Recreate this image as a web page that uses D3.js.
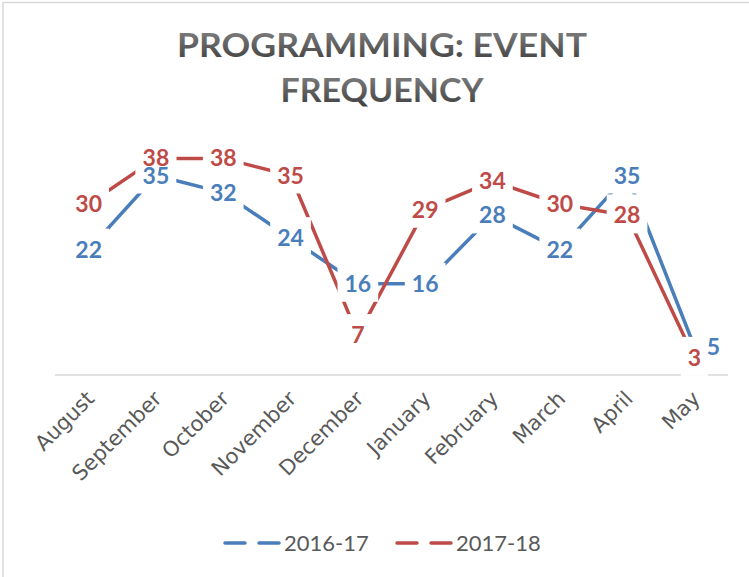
<!DOCTYPE html>
<html>
<head>
<meta charset="utf-8">
<script src="https://cdn.jsdelivr.net/npm/d3@7"></script>
<style>
  body { margin: 0; background: #fff; }
  svg { display: block; }
</style>
</head>
<body>
<div id="chart"></div>
<script>
const months = ['August', 'September', 'October', 'November', 'December',
  'January', 'February', 'March', 'April', 'May']
const values1617 = [22, 35, 32, 24, 16, 16, 28, 22, 35, 5]
const values1718 = [30, 38, 38, 35, 7, 29, 34, 30, 28, 3]
const seriesNames = ['2016-17', '2017-18']
const titleLines = ['PROGRAMMING: EVENT', 'FREQUENCY']

const W = 749
const H = 577
const blue = '#4a7ebb'
const red = '#be4b48'
const grey = '#595959'

const svg = d3.select('#chart').append('svg')
  .attr('width', W)
  .attr('height', H)

// chart border (only top & left show up in the frame)
svg.append('rect')
  .attr('x', 3).attr('y', 2.5)
  .attr('width', W + 10).attr('height', H + 10)
  .attr('fill', 'none')
  .attr('stroke', '#d9d9d9')
  .attr('stroke-width', 1.5)

const grad = svg.append('defs').append('linearGradient')
  .attr('id', 'titleGrad')
  .attr('x1', 0).attr('y1', 0).attr('x2', 0).attr('y2', 1)
grad.append('stop').attr('offset', '0%').attr('stop-color', '#8a8a8a')
grad.append('stop').attr('offset', '100%').attr('stop-color', '#3c3c3c')

const titleWidths = [410, 203]
titleLines.forEach((t, i) => {
  svg.append('text')
    .attr('x', 382)
    .attr('y', 57 + i * 45)
    .attr('text-anchor', 'middle')
    .attr('font-family', 'Lato')
    .attr('font-weight', 700)
    .attr('font-size', 33)
    .attr('textLength', titleWidths[i])
    .attr('lengthAdjust', 'spacingAndGlyphs')
    .attr('fill', 'url(#titleGrad)')
    .text(t)
})

const x = d3.scalePoint()
  .domain(months)
  .range([55, 728])
  .padding(0.5)

const y = d3.scaleLinear()
  .domain([0, 40])
  .range([375, 147])

// category axis
svg.append('line')
  .attr('x1', 55).attr('x2', 728)
  .attr('y1', y(0)).attr('y2', y(0))
  .attr('stroke', '#d9d9d9')
  .attr('stroke-width', 1.5)

svg.selectAll('.month')
  .data(months)
  .enter()
  .append('text')
  .attr('class', 'month')
  .attr('transform', d => 'translate(' + (x(d) + 7) + ',' + (y(0) + 25) + ') rotate(-45)')
  .attr('text-anchor', 'end')
  .attr('font-family', 'DejaVu Sans')
  .attr('font-size', 21)
  .attr('fill', grey)
  .text(d => d)

const series = [
  { name: seriesNames[0], values: values1617, color: blue },
  { name: seriesNames[1], values: values1718, color: red }
]

const line = d3.line()
  .x((d, i) => x(months[i]))
  .y(d => y(d))

series.forEach(s => {
  svg.append('path')
    .datum(s.values)
    .attr('d', line)
    .attr('fill', 'none')
    .attr('stroke', s.color)
    .attr('stroke-width', 3.5)
    .attr('stroke-linejoin', 'round')
})

// data labels: all white boxes first, then all the numbers
const labels = []
series.forEach((s, si) => {
  s.values.forEach((v, i) => {
    // 2016-17 May label is pushed to the right in the original
    const dx = (si === 0 && i === months.length - 1) ? 19 : 0
    labels.push({ cx: x(months[i]) + dx, cy: y(v), txt: String(v), color: s.color })
  })
})

const boxG = svg.append('g')
const textG = svg.append('g')
labels.forEach(d => {
  const t = textG.append('text')
    .attr('x', d.cx)
    .attr('y', d.cy + 8)
    .attr('text-anchor', 'middle')
    .attr('font-family', 'Lato')
    .attr('font-weight', 700)
    .attr('font-size', 23)
    .attr('fill', d.color)
    .text(d.txt)
  const tw = t.node().getComputedTextLength()
  boxG.append('rect')
    .attr('x', d.cx - tw / 2 - 7)
    .attr('y', d.cy - 21)
    .attr('width', tw + 14)
    .attr('height', 39)
    .attr('fill', '#fff')
})

// legend
const legendX = [225, 397]
series.forEach((s, i) => {
  const lg = svg.append('g')
    .attr('transform', 'translate(' + legendX[i] + ',543)')
  lg.append('line')
    .attr('x1', 0).attr('x2', 56)
    .attr('y1', 0).attr('y2', 0)
    .attr('stroke', s.color)
    .attr('stroke-width', 3.5)
    .attr('stroke-dasharray', '20,14')
    .attr('stroke-linecap', 'round')
  lg.append('text')
    .attr('x', 59)
    .attr('y', 8)
    .attr('font-family', 'Lato')
    .attr('font-size', 22)
    .attr('fill', grey)
    .text(s.name)
})
</script>
</body>
</html>
